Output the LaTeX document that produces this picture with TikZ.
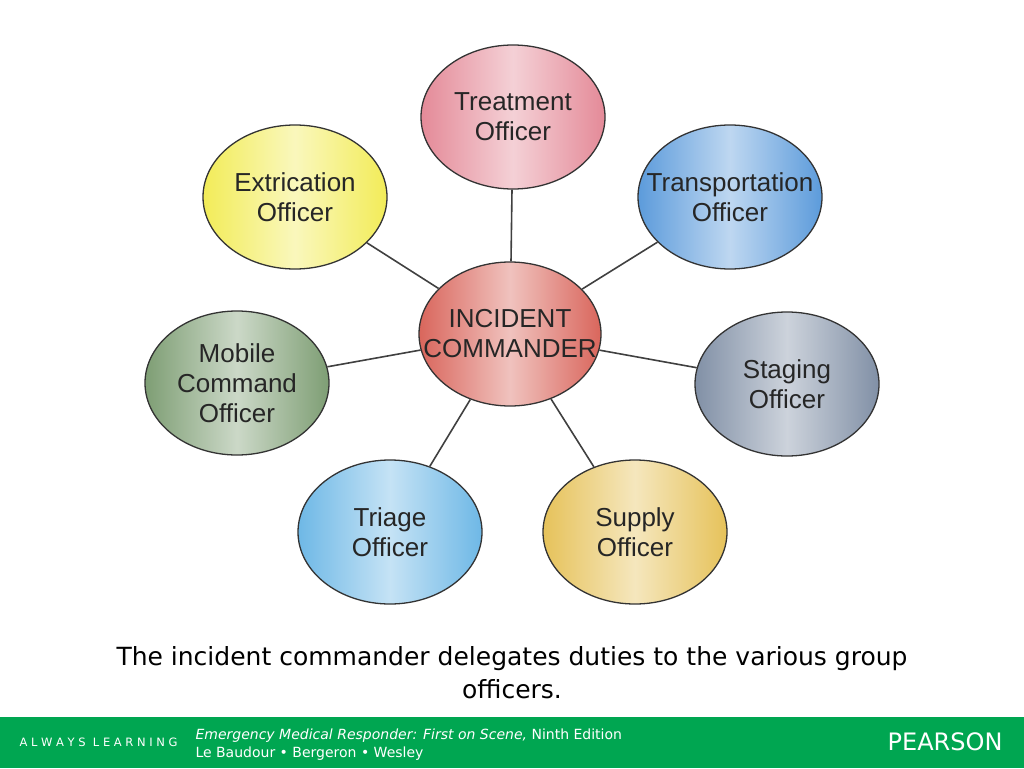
\documentclass[tikz,border=0pt]{standalone}
\usepackage{fontspec}
\setmainfont{Liberation Sans}
\newfontfamily\verd{DejaVu Sans}
\usetikzlibrary{shapes.geometric}
\definecolor{pgreen}{HTML}{00A651}
\definecolor{ctreat}{HTML}{E48A98}
\definecolor{ctrans}{HTML}{5C9BDB}
\definecolor{cstag}{HTML}{8190A6}
\definecolor{csupp}{HTML}{E6C25A}
\definecolor{ctriag}{HTML}{6EB8E6}
\definecolor{cmobil}{HTML}{7E9E74}
\definecolor{cextr}{HTML}{F2EC58}
\definecolor{cinc}{HTML}{D9665C}
\begin{document}
\begin{tikzpicture}[x=1pt,y=-1pt]
        \tikzset{
        ic node/.style={ellipse,draw=black!80,line width=1.3pt,minimum width=184pt,minimum height=144pt,
          inner xsep=-30pt,inner ysep=0pt,align=center,font=\fontsize{26}{30}\selectfont,text=black!85},
        ic shade/.style={left color=#1,right color=#1,middle color=#1!40!white},
        ic edge/.style={draw=black!75,line width=1.6pt}
        }
        \useasboundingbox (0,0) rectangle (1024,768);
        \fill[pgreen] (0,717) rectangle (1024,768);
        \node[ic node,ic shade=ctreat] (treat) at (513,117) {Treatment\\Officer};
        \node[ic node,ic shade=ctrans] (trans) at (730,197) {Transportation\\Officer};
        \node[ic node,ic shade=cstag] (stag) at (787,384) {Staging\\Officer};
        \node[ic node,ic shade=csupp] (supp) at (635,532) {Supply\\Officer};
        \node[ic node,ic shade=ctriag] (triag) at (390,532) {Triage\\Officer};
        \node[ic node,ic shade=cmobil] (mobil) at (237,383) {Mobile\\Command\\Officer};
        \node[ic node,ic shade=cextr] (extr) at (295,197) {Extrication\\Officer};
        \node[ic node,minimum width=182pt,ic shade=cinc] (inc) at (510,334) {INCIDENT\\COMMANDER};

        \path[ic edge]
        (inc) edge (treat)
        (inc) edge (trans)
        (inc) edge (stag)
        (inc) edge (supp)
        (inc) edge (triag)
        (inc) edge (mobil)
        (inc) edge (extr)
        ;

        \node[align=center,font=\verd\fontsize{25}{33}\selectfont] (cap) at (512,673)
          {The incident commander delegates duties to the various group\\officers.};
        \node[anchor=west,text=white,font=\verd\fontsize{11.5}{14}\selectfont] (alw) at (16,742) {A L W A Y S\ \ L E A R N I N G};
        \node[anchor=west,text=white,align=left,font=\verd\fontsize{14}{18}\selectfont] (book) at (192,745)
          {\textit{Emergency Medical Responder: First on Scene,} Ninth Edition\\Le Baudour • Bergeron • Wesley};
        \node[anchor=east,text=white,font=\verd\fontsize{24}{28}\selectfont] (pear) at (1006,742) {PEARSON};
    \end{tikzpicture}
\end{document}
